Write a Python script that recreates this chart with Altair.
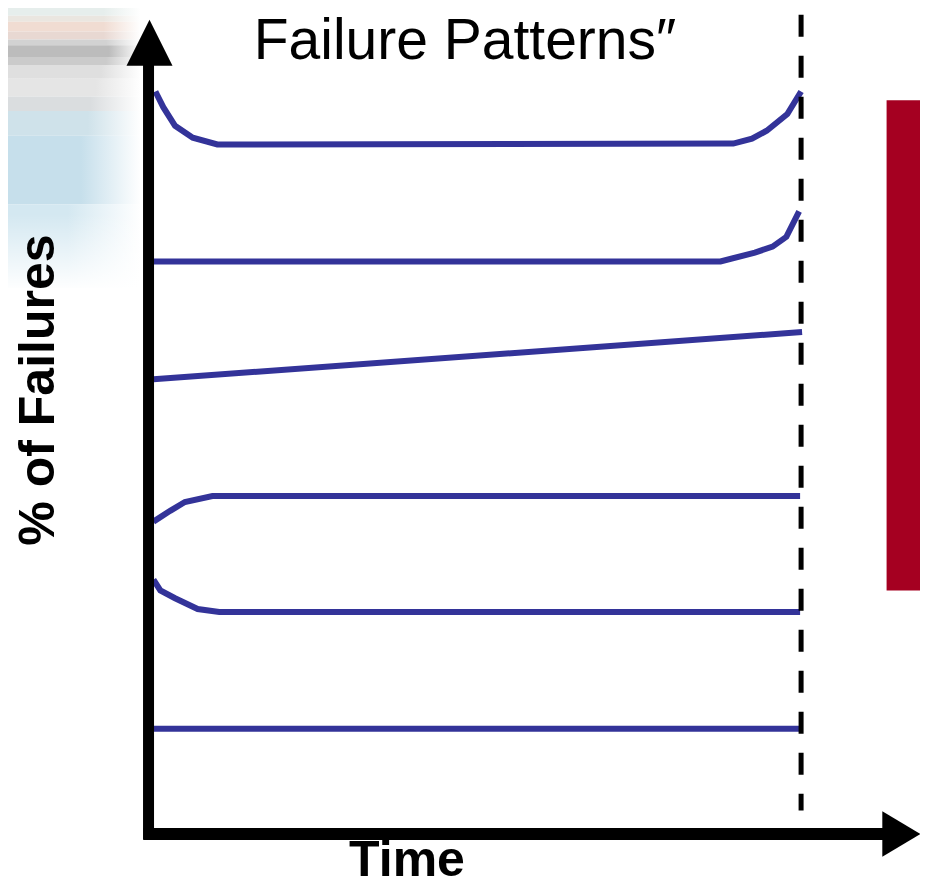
import altair as alt
import pandas as pd

# ---------------- data (reference pixel space 928 x 894, y downward) ----------------
REF_W, REF_H = 928, 894
W, H = 912, 878

series_names = ["A", "B", "C", "D", "E", "F"]
curve_x = {
    "A": [150, 158, 170, 188, 213, 738, 757, 772, 793, 807],
    "B": [148, 725, 760, 778, 792, 805],
    "C": [148, 808],
    "D": [148, 165, 180, 208, 806],
    "E": [148, 155, 170, 193, 215, 806],
    "F": [148, 806],
}
curve_y = {
    "A": [85, 101, 120, 132, 139, 138, 133, 125, 108, 85],
    "B": [258, 258, 249, 243, 233, 207],
    "C": [378, 330],
    "D": [523, 512, 503, 497, 497],
    "E": [582, 593, 601, 612, 615, 615],
    "F": [734, 734],
}

# background (blurred photo strip at upper left)
bg_top = [0, 8, 14, 24, 32, 38, 50, 58, 72, 90, 105, 130, 200]
bg_bottom = [8, 14, 24, 32, 38, 50, 58, 72, 90, 105, 130, 200, 285]
bg_colors = ["#e6eeec", "#eae6e0", "#f0dcd2", "#e8d8d2", "#d2d2d2", "#bcbcbc",
             "#cbcbcb", "#dfdfdf", "#e5e5e5", "#dadddf", "#cfe2ea", "#c6dfeb",
             "#d4e8f1"]
bg_fade_start = [0.72, 0.72, 0.72, 0.72, 0.74, 0.76, 0.74, 0.7, 0.66, 0.62,
                 0.6, 0.55, 0.45]

# axes, dashed marker, red bar
yaxis_x, yaxis_y1, yaxis_y2 = 143, 55, 847
xaxis_y, xaxis_x1, xaxis_x2 = 841, 138, 893
dash_x, dash_y1, dash_y2 = 807, 7, 817
bar_x1, bar_x2, bar_y1, bar_y2 = 894, 928, 94, 593

labels = ["Failure Patterns\u2033", "% of Failures", "Time"]
label_x = [465, 47, 406]
label_y = [52, 389, 884]

# ---------------- scales ----------------
xs = alt.Scale(domain=[0, REF_W], nice=False, zero=False)
ys = alt.Scale(domain=[0, REF_H], nice=False, zero=False, reverse=True)


def X(f="x"):
    return alt.X(f"{f}:Q", scale=xs, axis=None)


def Y(f="y"):
    return alt.Y(f"{f}:Q", scale=ys, axis=None)


layers = []

# background bands, fading to white on the right
for t, b, c, fs in zip(bg_top, bg_bottom, bg_colors, bg_fade_start):
    df = pd.DataFrame({"x": [0], "x2": [135], "y": [t], "y2": [b]})
    grad = alt.Gradient(
        gradient="linear", x1=0, x2=1, y1=0, y2=0,
        stops=[alt.GradientStop(offset=0, color=c),
               alt.GradientStop(offset=fs, color=c),
               alt.GradientStop(offset=1, color="#ffffff")])
    layers.append(alt.Chart(df).mark_rect(color=grad).encode(
        x=X("x"), x2="x2", y=Y("y"), y2="y2"))

# downward fade of the blue area
fade_df = pd.DataFrame({"x": [0], "x2": [140], "y": [210], "y2": [288]})
fade = alt.Gradient(
    gradient="linear", x1=0, x2=0, y1=0, y2=1,
    stops=[alt.GradientStop(offset=0, color="rgba(255,255,255,0)"),
           alt.GradientStop(offset=1, color="#ffffff")])
layers.append(alt.Chart(fade_df).mark_rect(color=fade).encode(
    x=X("x"), x2="x2", y=Y("y"), y2="y2"))

# curves
rows = []
for s in series_names:
    for i, (xv, yv) in enumerate(zip(curve_x[s], curve_y[s])):
        rows.append({"series": s, "order": i, "x": xv, "y": yv})
curves = pd.DataFrame(rows)
layers.append(alt.Chart(curves).mark_line(
    color="#333399", strokeWidth=6, strokeCap="butt", strokeJoin="miter").encode(
    x=X(), y=Y(), detail="series:N", order="order:Q"))

# dashed vertical marker
dash_df = pd.DataFrame({"x": [dash_x], "y": [dash_y1], "y2": [dash_y2]})
layers.append(alt.Chart(dash_df).mark_rule(
    color="black", strokeWidth=5, strokeDash=[22, 19]).encode(
    x=X(), y=Y(), y2="y2"))

# axes lines
ya_df = pd.DataFrame({"x": [yaxis_x], "y": [yaxis_y1], "y2": [yaxis_y2]})
layers.append(alt.Chart(ya_df).mark_rule(color="black", strokeWidth=11).encode(
    x=X(), y=Y(), y2="y2"))
xa_df = pd.DataFrame({"x": [xaxis_x1], "x2": [xaxis_x2], "y": [xaxis_y]})
layers.append(alt.Chart(xa_df).mark_rule(color="black", strokeWidth=12).encode(
    x=X(), x2="x2", y=Y()))

# arrow heads
up_df = pd.DataFrame({"x": [144], "y": [35.5]})
layers.append(alt.Chart(up_df).mark_point(
    shape="M0,-1L-1,1L1,1Z", size=46 * 46, filled=True, color="black",
    opacity=1, strokeWidth=0).encode(x=X(), y=Y()))
right_df = pd.DataFrame({"x": [909], "y": [841]})
layers.append(alt.Chart(right_df).mark_point(
    shape="M1,0L-1,-1.2L-1,1.2Z", size=38 * 38, filled=True, color="black",
    opacity=1, strokeWidth=0).encode(x=X(), y=Y()))

# red bar
bar_df = pd.DataFrame({"x": [bar_x1], "x2": [bar_x2], "y": [bar_y1], "y2": [bar_y2]})
layers.append(alt.Chart(bar_df).mark_rect(color="#a50021").encode(
    x=X(), x2="x2", y=Y(), y2="y2"))

# texts
t_df = pd.DataFrame({"text": [labels[0]], "x": [label_x[0]], "y": [label_y[0]]})
layers.append(alt.Chart(t_df).mark_text(
    font="Liberation Sans", fontSize=57, fontWeight="normal", color="black",
    align="center", baseline="alphabetic").encode(x=X(), y=Y(), text="text:N"))
yl_df = pd.DataFrame({"text": [labels[1]], "x": [label_x[1]], "y": [label_y[1]]})
layers.append(alt.Chart(yl_df).mark_text(
    font="Liberation Sans", fontSize=50, fontWeight="bold", color="black",
    align="center", baseline="alphabetic", angle=270).encode(x=X(), y=Y(), text="text:N"))
xl_df = pd.DataFrame({"text": [labels[2]], "x": [label_x[2]], "y": [label_y[2]]})
layers.append(alt.Chart(xl_df).mark_text(
    font="Liberation Sans", fontSize=50, fontWeight="bold", color="black",
    align="center", baseline="alphabetic").encode(x=X(), y=Y(), text="text:N"))

chart = alt.layer(*layers).properties(
    width=W, height=H, padding=0,
    autosize=alt.AutoSizeParams(type="none"),
    background="white",
).configure_view(stroke=None)

chart.save("out.html", embed_options={"renderer": "svg", "actions": False})
